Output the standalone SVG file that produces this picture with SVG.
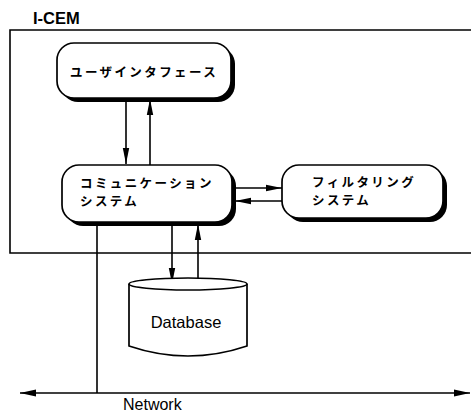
<svg xmlns="http://www.w3.org/2000/svg" width="471" height="412" viewBox="0 0 471 412">
<style>
.ln{stroke:#000;stroke-width:1.6;fill:none}
.box{fill:#fff;stroke:#000;stroke-width:1.7}
.sh{fill:#000}
.jp{font-family:"Noto Sans CJK JP","Noto Sans CJK SC",sans-serif;font-weight:bold;font-size:12.5px;letter-spacing:2.4px;fill:#000}
.en{font-family:"Liberation Sans",Arial,sans-serif;fill:#000}
</style>
<defs>
<marker id="ah" viewBox="0 0 16 10" refX="16" refY="5" markerWidth="16" markerHeight="10" markerUnits="userSpaceOnUse" orient="auto">
<path d="M0,1.8 L16,5 L0,8.2 Z" fill="#000"/>
</marker>
<marker id="ahl" viewBox="0 0 16 10" refX="16" refY="5" markerWidth="16" markerHeight="10" markerUnits="userSpaceOnUse" orient="auto-start-reverse">
<path d="M0,1.5 L16,5 L0,8.5 Z" fill="#000"/>
</marker>
</defs>
<rect width="471" height="412" fill="#fff"/>
<g id="icem">
<path class="ln" d="M472,30 L10,30 L10,253 L472,253"/>
<text class="en" x="33" y="24" font-size="16.5" font-weight="bold">I-CEM</text>
</g>
<g id="connectors">
<line class="ln" x1="126" y1="98" x2="126" y2="164" marker-end="url(#ah)"/>
<line class="ln" x1="150" y1="165" x2="150" y2="99" marker-end="url(#ah)"/>
<line class="ln" x1="236" y1="188" x2="282" y2="188" marker-end="url(#ah)"/>
<line class="ln" x1="282" y1="201" x2="235" y2="201" marker-end="url(#ah)"/>
<line class="ln" x1="172" y1="224" x2="172" y2="284" marker-end="url(#ah)"/>
<line class="ln" x1="198" y1="284" x2="198" y2="224" marker-end="url(#ah)"/>
<line class="ln" x1="97" y1="224" x2="97" y2="393"/>
<line class="ln" x1="20" y1="393" x2="470" y2="393" marker-start="url(#ahl)" marker-end="url(#ahl)"/>
</g>
<g id="user-interface">
<rect class="sh" x="61" y="47" width="174" height="55" rx="17"/>
<rect class="box" x="57" y="43" width="174" height="55" rx="17"/>
<text class="jp" x="70" y="77">ユーザインタフェース</text>
</g>
<g id="communication">
<rect class="sh" x="66" y="169" width="170" height="57" rx="17"/>
<rect class="box" x="62" y="165" width="170" height="57" rx="17"/>
<text class="jp" x="80" y="188">コミュニケーション</text>
<text class="jp" x="80" y="206">システム</text>
</g>
<g id="filtering">
<rect class="sh" x="286" y="169" width="161" height="53" rx="17"/>
<rect class="box" x="282" y="165" width="161" height="53" rx="17"/>
<text class="jp" x="312" y="187">フィルタリング</text>
<text class="jp" x="312" y="205">システム</text>
</g>
<g id="database">
<path class="box" d="M129,284 L129,346 Q188,366 247,346 L247,284"/>
<ellipse class="box" cx="188" cy="284" rx="59" ry="6"/>
<text class="en" x="186" y="328" font-size="16.5" text-anchor="middle">Database</text>
</g>
<g id="network-label">
<text class="en" x="123" y="410" font-size="16">Network</text>
</g>
</svg>
